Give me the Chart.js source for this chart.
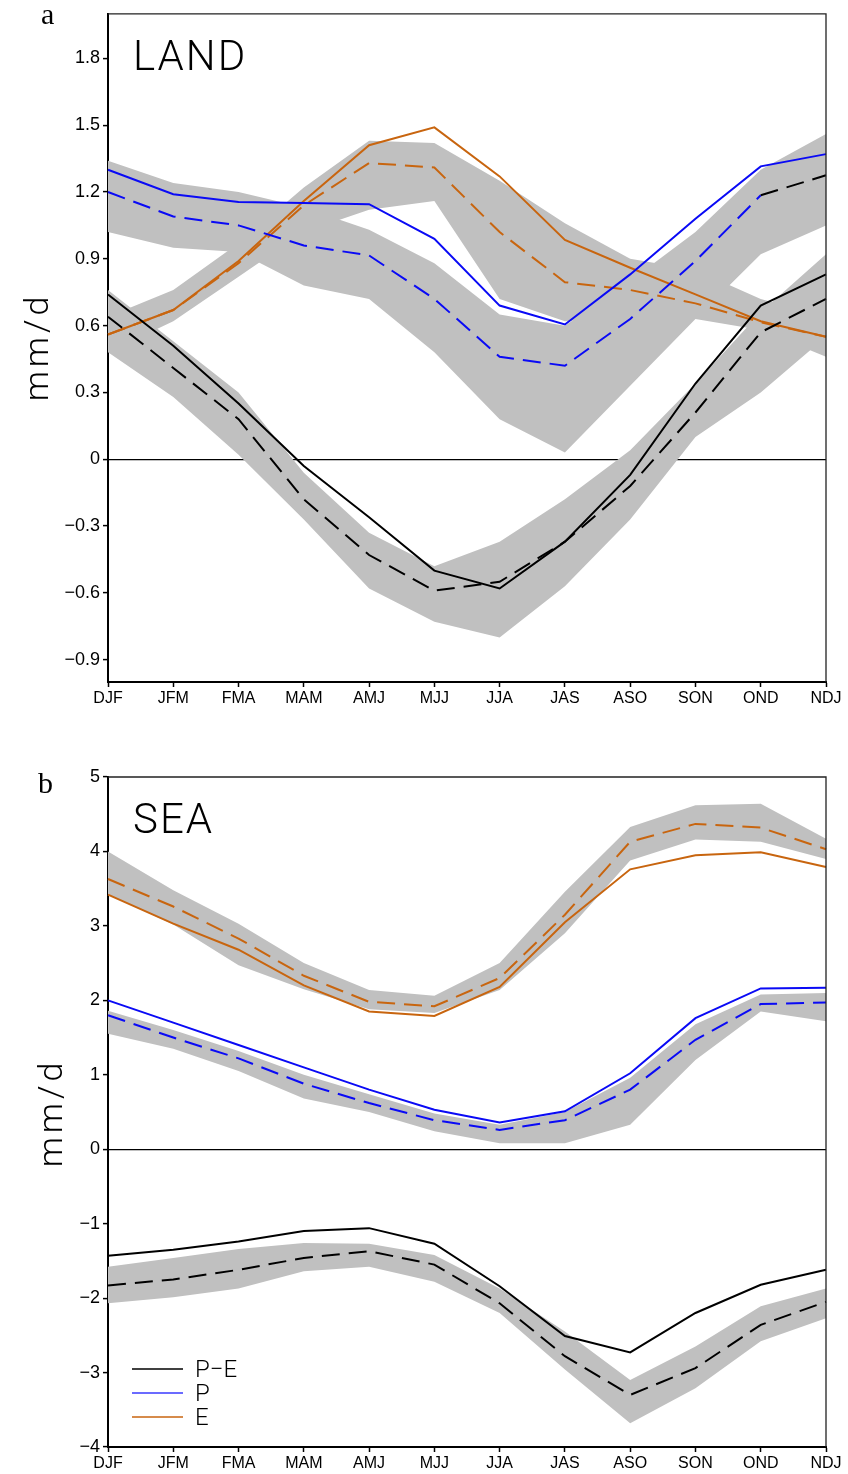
<!DOCTYPE html>
<html lang="en">
<head>
<meta charset="utf-8">
<title>P, E and P−E seasonal cycle</title>
<script src="https://cdn.jsdelivr.net/npm/chart.js@4.4.0/dist/chart.umd.min.js"></script>
<style>
  * { margin: 0; padding: 0; box-sizing: border-box; }
  body { width: 848px; height: 1474px; background: #fff; position: relative; overflow: hidden; }
  .panel { position: absolute; left: 0; width: 848px; height: 737px; }
  #panelA { top: 0; }
  #panelB { top: 737px; }
</style>
</head>
<body>
<div class="panel" id="panelA"><canvas id="landChart"></canvas></div>
<div class="panel" id="panelB"><canvas id="seaChart"></canvas></div>
<script>
// 3-month running seasons
const seasons = ["DJF", "JFM", "FMA", "MAM", "AMJ", "MJJ", "JJA", "JAS", "ASO", "SON", "OND", "NDJ"];

// LAND (mm/d): solid = model, dashed = ensemble mean, band = spread
const landPE    = [0.74, 0.51, 0.25, -0.03, -0.26, -0.50, -0.58, -0.37, -0.07, 0.34, 0.69, 0.83];
const landPEObs = [0.64, 0.41, 0.18, -0.18, -0.43, -0.59, -0.55, -0.37, -0.12, 0.21, 0.57, 0.72];
const landPEHi  = [0.76, 0.53, 0.30, -0.06, -0.33, -0.48, -0.37, -0.18, 0.04, 0.34, 0.66, 0.92];
const landPELo  = [0.48, 0.28, 0.02, -0.27, -0.58, -0.73, -0.80, -0.57, -0.27, 0.10, 0.30, 0.55];
const landP     = [1.30, 1.19, 1.155, 1.15, 1.145, 0.99, 0.69, 0.605, 0.83, 1.08, 1.315, 1.37];
const landPObs  = [1.20, 1.09, 1.05, 0.96, 0.915, 0.72, 0.46, 0.42, 0.63, 0.89, 1.185, 1.275];
const landPHi   = [1.34, 1.24, 1.20, 1.13, 1.03, 0.88, 0.65, 0.60, 0.80, 1.02, 1.30, 1.46];
const landPLo   = [1.02, 0.95, 0.93, 0.78, 0.72, 0.48, 0.18, 0.03, 0.33, 0.63, 0.92, 1.05];
const landE     = [0.56, 0.67, 0.89, 1.16, 1.41, 1.49, 1.27, 0.985, 0.86, 0.74, 0.62, 0.55];
const landEObs  = [0.56, 0.67, 0.88, 1.14, 1.33, 1.31, 1.02, 0.795, 0.76, 0.70, 0.615, 0.55];
const landEHi   = [0.64, 0.76, 0.97, 1.22, 1.43, 1.42, 1.25, 1.06, 0.90, 0.85, 0.72, 0.64];
const landELo   = [0.48, 0.62, 0.82, 1.02, 1.12, 1.16, 0.72, 0.62, 0.64, 0.63, 0.58, 0.46];

// SEA (mm/d)
const seaPE    = [-1.43, -1.35, -1.24, -1.10, -1.06, -1.27, -1.84, -2.51, -2.73, -2.20, -1.82, -1.62];
const seaPEObs = [-1.83, -1.75, -1.62, -1.46, -1.37, -1.55, -2.07, -2.78, -3.30, -2.94, -2.36, -2.05];
const seaPEHi  = [-1.58, -1.46, -1.34, -1.26, -1.27, -1.42, -1.87, -2.45, -3.10, -2.65, -2.11, -1.87];
const seaPELo  = [-2.07, -1.99, -1.87, -1.64, -1.58, -1.78, -2.20, -2.96, -3.68, -3.21, -2.58, -2.27];
const seaP     = [2.00, 1.70, 1.40, 1.10, 0.80, 0.53, 0.36, 0.51, 1.02, 1.76, 2.16, 2.17];
const seaPObs  = [1.80, 1.50, 1.22, 0.88, 0.62, 0.39, 0.26, 0.39, 0.80, 1.47, 1.95, 1.97];
const seaPHi   = [1.86, 1.60, 1.32, 1.00, 0.74, 0.48, 0.33, 0.50, 0.96, 1.68, 2.08, 2.10];
const seaPLo   = [1.55, 1.35, 1.05, 0.68, 0.50, 0.24, 0.08, 0.08, 0.33, 1.20, 1.85, 1.72];
const seaE     = [3.42, 3.03, 2.68, 2.20, 1.85, 1.79, 2.18, 3.05, 3.76, 3.95, 3.99, 3.79];
const seaEObs  = [3.63, 3.26, 2.83, 2.33, 1.98, 1.92, 2.30, 3.15, 4.13, 4.37, 4.32, 4.03];
const seaEHi   = [4.00, 3.48, 3.03, 2.50, 2.14, 2.06, 2.50, 3.46, 4.33, 4.62, 4.64, 4.17];
const seaELo   = [3.42, 3.02, 2.47, 2.15, 1.88, 1.83, 2.14, 2.90, 3.88, 4.16, 4.13, 3.90];

const landTicks = [-0.9, -0.6, -0.3, 0, 0.3, 0.6, 0.9, 1.2, 1.5, 1.8];
const seaTicks = [-4, -3, -2, -1, 0, 1, 2, 3, 4, 5];

const BLACK = "#000000";
const BLUE = "#0a0af5";
const ORANGE = "#c8650f";
const SPREAD = "#c0c0c0";
const FONT = '"Liberation Sans", Arial, sans-serif';

const minus = (s) => s.replace("-", "\u2212");

function band(hi, lo) {
  return [
    { data: hi, fill: "+1", backgroundColor: SPREAD, borderWidth: 0, pointRadius: 0, order: 2 },
    { data: lo, fill: false, borderWidth: 0, pointRadius: 0, order: 2 },
  ];
}

function line(data, color, dashed, extra) {
  return Object.assign({
    data: data,
    borderColor: color,
    borderWidth: 2,
    borderDash: dashed ? [18, 9] : [],
    pointRadius: 0,
    tension: 0,
    fill: false,
    order: 1,
  }, extra || {});
}

// frame, panel letter, region name, unit label and legend
const decor = {
  id: "decor",
  afterDraw(chart, args, o) {
    const { ctx, chartArea: a } = chart;
    ctx.save();
    ctx.strokeStyle = "#222";
    ctx.lineWidth = 1.3;
    ctx.beginPath();
    ctx.moveTo(a.left, a.top);
    ctx.lineTo(a.right, a.top);
    ctx.lineTo(a.right, a.bottom);
    ctx.stroke();

    ctx.fillStyle = BLACK;
    ctx.textBaseline = "alphabetic";
    ctx.font = '30px "Liberation Serif", serif';
    ctx.fillText(o.letter, o.letterX, o.letterY);

    ctx.font = '300 42px Roboto, sans-serif';
    ctx.letterSpacing = "2px";
    ctx.fillText(o.title, a.left + 25, a.top + 56);

    ctx.save();
    ctx.translate(o.unitX, o.unitY);
    ctx.rotate(-Math.PI / 2);
    ctx.textAlign = "center";
    ctx.font = '300 34px Roboto, sans-serif';
    ctx.letterSpacing = "4px";
    ctx.fillText("mm/d", 0, 0);
    ctx.restore();

    if (o.legend) {
      ctx.font = '300 24px Roboto, sans-serif';
      ctx.letterSpacing = "0px";
      ctx.lineWidth = 1.5;
      o.legend.forEach((item, i) => {
        const y = o.legendY + i * 24;
        ctx.strokeStyle = item.color;
        ctx.beginPath();
        ctx.moveTo(132, y);
        ctx.lineTo(183, y);
        ctx.stroke();
        ctx.fillText(item.label, 195, y + 8);
      });
    }
    ctx.restore();
  },
};

function makeChart(canvasId, cfg) {
  return new Chart(document.getElementById(canvasId), {
    type: "line",
    plugins: [decor],
    data: { labels: seasons, datasets: cfg.datasets },
    options: {
      responsive: true,
      maintainAspectRatio: false,
      animation: false,
      layout: { padding: { top: cfg.padTop, right: 22, left: 0, bottom: 0 } },
      plugins: {
        legend: { display: false },
        tooltip: { enabled: false },
        decor: cfg.decor,
      },
      scales: {
        x: {
          offset: false,
          grid: { drawOnChartArea: false, drawTicks: true, tickLength: 5, tickColor: BLACK, tickWidth: 1.5 },
          border: { display: true, color: BLACK, width: 2 },
          ticks: { color: BLACK, font: { family: FONT, size: 16 }, padding: 2, maxRotation: 0, autoSkip: false },
          afterFit: (s) => { s.height = cfg.xHeight; },
        },
        y: {
          min: cfg.min,
          max: cfg.max,
          afterBuildTicks: (s) => { s.ticks = cfg.ticks.map((v) => ({ value: v })); },
          grid: {
            drawOnChartArea: true,
            drawTicks: true,
            tickLength: 5,
            tickColor: BLACK,
            tickWidth: 1.5,
            lineWidth: 1.2,
            color: (c) => (c.tick && c.tick.value === 0 ? BLACK : "rgba(0,0,0,0)"),
          },
          border: { display: true, color: BLACK, width: 2 },
          ticks: { color: BLACK, font: { family: FONT, size: 18 }, padding: 3, callback: cfg.format },
          afterFit: (s) => { s.width = 108; },
        },
      },
    },
  });
}

makeChart("landChart", {
  padTop: 12,
  xHeight: 55,
  min: -1,
  max: 2,
  ticks: landTicks,
  format: (v) => (v === 0 ? "0" : minus(v.toFixed(1))),
  decor: { letter: "a", letterX: 41, letterY: 24, title: "LAND", unitX: 48, unitY: 347 },
  datasets: [
    ...band(landPEHi, landPELo),
    ...band(landPHi, landPLo),
    ...band(landEHi, landELo),
    line(landPEObs, BLACK, true),
    line(landPE, BLACK, false),
    line(landPObs, BLUE, true, { segment: { borderColor: (c) => (c.p0DataIndex === 10 ? BLACK : undefined) } }),
    line(landP, BLUE, false),
    line(landEObs, ORANGE, true),
    line(landE, ORANGE, false),
  ],
});

makeChart("seaChart", {
  padTop: 40,
  xHeight: 27,
  min: -4,
  max: 5,
  ticks: seaTicks,
  format: (v) => minus(String(v)),
  decor: {
    letter: "b", letterX: 38, letterY: 56, title: "SEA", unitX: 62, unitY: 376,
    legendY: 632,
    legend: [
      { label: "P\u2212E", color: BLACK },
      { label: "P", color: "#3a3aff" },
      { label: "E", color: ORANGE },
    ],
  },
  datasets: [
    ...band(seaPEHi, seaPELo),
    ...band(seaPHi, seaPLo),
    ...band(seaEHi, seaELo),
    line(seaPEObs, BLACK, true),
    line(seaPE, BLACK, false),
    line(seaPObs, BLUE, true),
    line(seaP, BLUE, false),
    line(seaEObs, ORANGE, true),
    line(seaE, ORANGE, false),
  ],
});
</script>
</body>
</html>
